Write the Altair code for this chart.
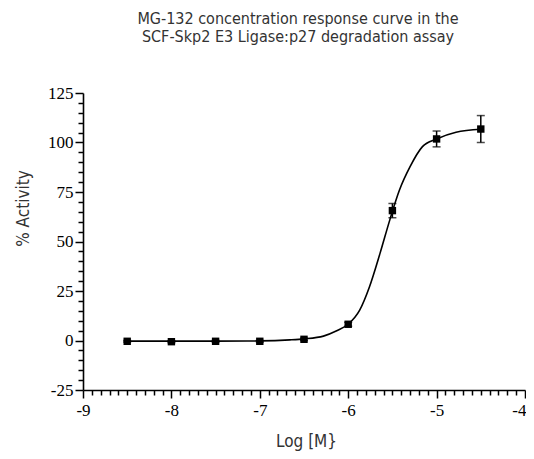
import altair as alt
import pandas as pd

# Measured points (mean ± error)
log_conc = [-8.5, -8.0, -7.5, -7.0, -6.5, -6.0, -5.5, -5.0, -4.5]
activity = [-0.4, -0.6, -0.4, -0.4, 0.6, 8.2, 65.6, 101.8, 106.8]
err = [0.4, 0.5, 0.4, 0.4, 0.6, 1.0, 3.6, 4.0, 6.8]

# Fitted curve
curve_x = [-8.5, -8.0, -7.5, -7.0, -6.66, -6.5, -6.28, -6.13, -6.0, -5.87, -5.76,
           -5.64, -5.53, -5.42, -5.30, -5.16, -5.0, -4.78, -4.5]
curve_y = [-0.3, -0.3, -0.3, -0.2, 0.3, 0.8, 2.2, 4.9, 8.2, 15.3, 27.0,
           44.0, 60.8, 76.0, 87.8, 97.9, 101.8, 105.2, 106.7]

x_major = [-9, -8, -7, -6, -5, -4]
y_major = [-25, 0, 25, 50, 75, 100, 125]
x_ticks = [round(-9 + 0.1 * i, 1) for i in range(51)]
y_ticks = [-25 + 5 * i for i in range(31)]

pts = pd.DataFrame({"x": log_conc, "y": activity, "e": err})
pts["lo"] = pts["y"] - pts["e"]
pts["hi"] = pts["y"] + pts["e"]
curve = pd.DataFrame({"x": curve_x, "y": curve_y})

SANS = "DejaVu Sans Condensed"
SERIF = "Liberation Serif, Times New Roman, serif"

xscale = alt.Scale(domain=[-9, -4], nice=False, zero=False)
yscale = alt.Scale(domain=[-25, 125], nice=False, zero=False)

xaxis = alt.Axis(
    values=x_ticks,
    tickCount=200,
    labelExpr="abs(datum.value - round(datum.value)) < 0.001 ? '' + round(datum.value) : ''",
    tickSize={"condition": {"test": "abs(datum.value - round(datum.value)) < 0.001", "value": 8}, "value": 5},
    labelAlign={"condition": {"test": "datum.value > -4.05", "value": "right"}, "value": "center"},
    labelOffset={"condition": {"test": "datum.value > -4.05", "value": 1}, "value": 0},
    labelPadding=4,
    title="Log [M}",
    titleX=223, titleY=51, titleBaseline="middle", titleAlign="center",
    grid=False,
)
yaxis = alt.Axis(
    values=y_ticks,
    tickCount=200,
    labelExpr="datum.value % 25 == 0 ? '' + datum.value : ''",
    tickSize={"condition": {"test": "datum.value % 25 == 0", "value": 8}, "value": 5},
    labelPadding=2,
    title="% Activity",
    titleAngle=-90, titleX=-60, titleY=115, titleAlign="center", titleBaseline="middle",
    grid=False,
)

line = alt.Chart(curve).mark_line(color="black", strokeWidth=1.6, interpolate="monotone").encode(
    x=alt.X("x:Q", scale=xscale, axis=xaxis),
    y=alt.Y("y:Q", scale=yscale, axis=yaxis),
)
rules = alt.Chart(pts).mark_rule(color="black", strokeWidth=1.5).encode(
    x="x:Q", y="lo:Q", y2="hi:Q"
)
cap_hi = alt.Chart(pts).mark_tick(color="black", size=8, thickness=1.5, orient="horizontal").encode(
    x="x:Q", y="hi:Q"
)
cap_lo = alt.Chart(pts).mark_tick(color="black", size=8, thickness=1.5, orient="horizontal").encode(
    x="x:Q", y="lo:Q"
)
points = alt.Chart(pts).mark_point(shape="square", filled=True, color="black", opacity=1, size=55).encode(
    x="x:Q", y="y:Q"
)

chart = alt.layer(line, rules, cap_hi, cap_lo, points).properties(
    width=442,
    height=297,
    title=alt.TitleParams(
        text=["MG-132 concentration response curve in the", "SCF-Skp2 E3 Ligase:p27 degradation assay"],
        font=SANS, fontSize=16, fontWeight="normal", color="#333333",
        anchor="middle", dx=-6, offset=39, lineHeight=18,
    ),
    autosize=alt.AutoSizeParams(type="none"),
    padding={"left": 75, "top": 85, "right": 1, "bottom": 61},
).configure_view(stroke=None).configure_axis(
    domainColor="black", domainWidth=1.6, tickColor="black", tickWidth=1.5,
    labelFont=SERIF, labelFontSize=17, labelColor="black",
    titleFont=SANS, titleFontSize=17, titleFontWeight="normal", titleColor="#333333",
    labelFlush=False, labelOverlap=False,
)

chart.save("out.html", embed_options={"renderer": "svg", "actions": False})
